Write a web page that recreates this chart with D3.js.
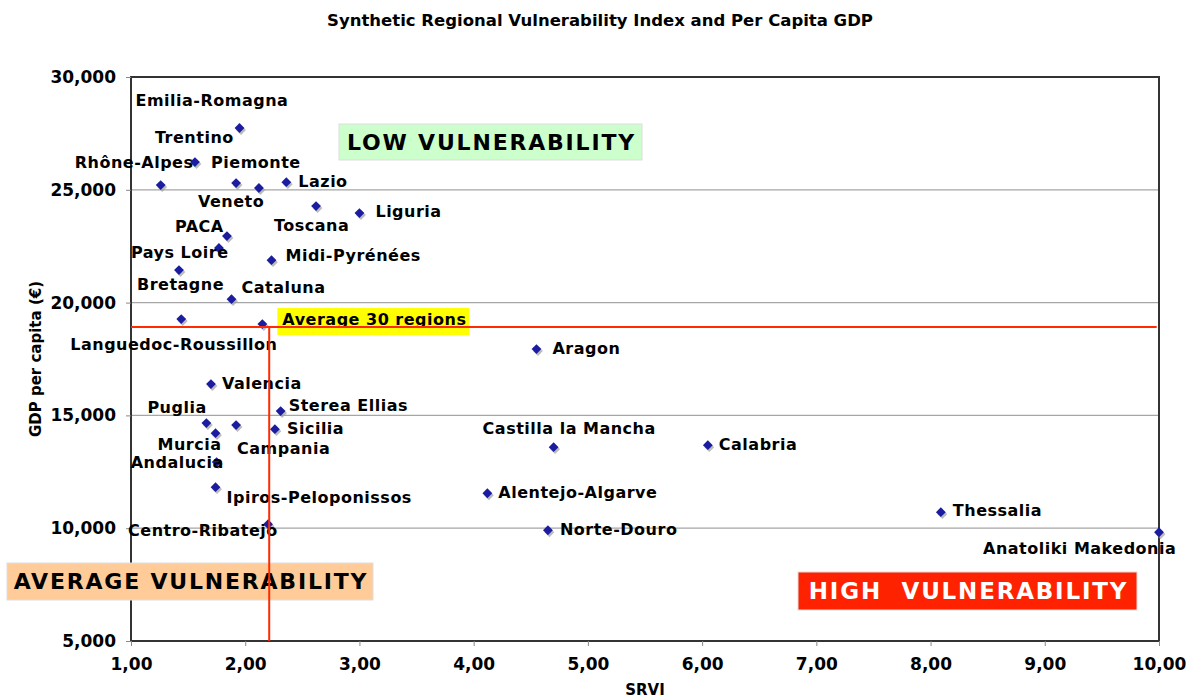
<!DOCTYPE html>
<html>
<head>
<meta charset="utf-8">
<script src="https://cdn.jsdelivr.net/npm/d3@7"></script>
<style>
  body { margin: 0; background: #fff; }
  text { font-family: "DejaVu Sans", Verdana, sans-serif; font-weight: bold; }
</style>
</head>
<body>
<div class="chart"></div>
<script>
// ______________________________ data ______________________________

const regions = ["Emilia-Romagna", "Trentino", "Rhône-Alpes", "Piemonte", "Veneto", "Lazio",
  "Toscana", "Liguria", "PACA", "Pays Loire", "Bretagne", "Midi-Pyrénées", "Cataluna",
  "Languedoc-Roussillon", "Average 30 regions", "Aragon", "Valencia", "Sterea Ellias",
  "Puglia", "Campania", "Murcia", "Sicilia", "Andalucia", "Ipiros-Peloponissos",
  "Centro-Ribatejo", "Castilla la Mancha", "Calabria", "Alentejo-Algarve", "Norte-Douro",
  "Thessalia", "Anatoliki Makedonia"];

const srvi = [1.95, 1.56, 1.26, 1.92, 2.12, 2.36, 2.62, 3.00, 1.84, 1.77, 1.42, 2.23, 1.88,
  1.44, 2.15, 4.55, 1.70, 2.31, 1.66, 1.92, 1.74, 2.26, 1.75, 1.74, 2.20, 4.70, 6.05,
  4.12, 4.65, 8.09, 10.00];

const gdp = [27740, 26230, 25210, 25300, 25080, 25340, 24280, 23970, 22950, 22420, 21440,
  21880, 20150, 19270, 19050, 17940, 16390, 15190, 14660, 14570, 14210, 14390, 12930,
  11820, 10180, 13590, 13680, 11550, 9910, 10710, 9820];

const avgSrvi = 2.21;
const avgGdp = 18920;

const xTicks = [1, 2, 3, 4, 5, 6, 7, 8, 9, 10];
const yTicks = [5000, 10000, 15000, 20000, 25000, 30000];

// label placement (pixel offsets from the marker)
const labelOffsets = {
  "Emilia-Romagna": [-104, -22], "Trentino": [-40, -19], "Rhône-Alpes": [-86, -17],
  "Piemonte": [-25, -15], "Veneto": [-61, 19], "Lazio": [12, 5], "Toscana": [-42, 25],
  "Liguria": [16, 4], "PACA": [-52, -4], "Pays Loire": [-88, 10], "Bretagne": [-42, 20],
  "Midi-Pyrénées": [14, 1], "Cataluna": [10, -6], "Languedoc-Roussillon": [-111, 31],
  "Average 30 regions": [20, 1], "Aragon": [16, 5], "Valencia": [11, 5],
  "Sterea Ellias": [8, 0], "Puglia": [-59, -10], "Campania": [1, 29], "Murcia": [-58, 17],
  "Sicilia": [12, 5], "Andalucia": [-86, 6], "Ipiros-Peloponissos": [11, 16],
  "Centro-Ribatejo": [-140, 12], "Castilla la Mancha": [-71, -13], "Calabria": [11, 5],
  "Alentejo-Algarve": [11, 5], "Norte-Douro": [12, 5], "Thessalia": [12, 4],
  "Anatoliki Makedonia": [-176, 22]
};

const data = regions.map((name, i) => ({name: name, srvi: srvi[i], gdp: gdp[i]}));

// ______________________________ chart ______________________________

const width = 1194;
const height = 700;
const margin = {top: 77, right: 35, bottom: 59, left: 131};

const svg = d3.select(".chart")
    .append("svg")
    .attr("width", width)
    .attr("height", height);

const xScale = d3.scaleLinear()
    .domain([1, 10])
    .range([margin.left, width - margin.right]);

const yScale = d3.scaleLinear()
    .domain([5000, 30000])
    .range([height - margin.bottom, margin.top]);

// title
svg.append("text")
    .attr("x", 600)
    .attr("y", 26)
    .attr("text-anchor", "middle")
    .attr("font-size", "16.5px")
    .text("Synthetic Regional Vulnerability Index and Per Capita GDP");

// gridlines
svg.append("g")
    .selectAll("line")
    .data(yTicks.filter(d => d > 5000 && d < 30000))
    .join("line")
        .attr("x1", xScale(1))
        .attr("x2", xScale(10))
        .attr("y1", d => yScale(d))
        .attr("y2", d => yScale(d))
        .attr("stroke", "#a6a6a6")
        .attr("stroke-width", 1.2);

// frame
svg.append("rect")
    .attr("x", xScale(1))
    .attr("y", yScale(30000))
    .attr("width", xScale(10) - xScale(1))
    .attr("height", yScale(5000) - yScale(30000))
    .attr("fill", "none")
    .attr("stroke", "#333")
    .attr("stroke-width", 2);

// axes
const xAxis = svg.append("g")
    .attr("transform", `translate(0,${yScale(5000)})`)
    .call(d3.axisBottom(xScale).tickValues(xTicks).tickSize(5).tickPadding(12)
        .tickFormat(d => d3.format(".2f")(d).replace(".", ",")));

const yAxis = svg.append("g")
    .attr("transform", `translate(${xScale(1)},0)`)
    .call(d3.axisLeft(yScale).tickValues(yTicks).tickSize(5).tickPadding(10)
        .tickFormat(d3.format(",")));

[xAxis, yAxis].forEach(g => {
    g.attr("font-size", null).attr("font-family", null);
    g.select(".domain").remove();
    g.selectAll(".tick line").attr("stroke", "#888");
    g.selectAll(".tick text")
        .style("font-size", "17px")
        .style("font-weight", "bold")
        .attr("fill", "#000");
});

svg.append("text")
    .attr("x", 645)
    .attr("y", 695)
    .attr("text-anchor", "middle")
    .attr("font-size", "15px")
    .text("SRVI");

svg.append("text")
    .attr("transform", `translate(41,${(yScale(5000) + yScale(30000)) / 2}) rotate(-90)`)
    .attr("text-anchor", "middle")
    .attr("font-size", "15px")
    .text("GDP per capita (€)");

// quadrant boxes
function box(x, y, w, h, fill, label, size, color) {
    svg.append("rect")
        .attr("x", x).attr("y", y).attr("width", w).attr("height", h)
        .attr("fill", fill)
        .attr("stroke", "#ddd");
    svg.append("text")
        .attr("x", x + w / 2 + 1)
        .attr("y", y + h / 2)
        .attr("dy", "0.36em")
        .attr("text-anchor", "middle")
        .attr("font-size", size)
        .attr("letter-spacing", "1.8px")
        .attr("fill", color)
        .attr("xml:space", "preserve")
        .text(label);
}

box(339, 124, 303, 36, "#ccffcc", "LOW VULNERABILITY", "22px", "#000");
box(7, 563, 366, 37, "#ffcc99", "AVERAGE VULNERABILITY", "22px", "#000");
box(798, 572, 339, 38, "#ff2200", "HIGH  VULNERABILITY", "23px", "#fff");

// yellow background for the average label
const avg = data.find(d => d.name === "Average 30 regions");
svg.append("rect")
    .attr("x", xScale(avg.srvi) + 15)
    .attr("y", yScale(avg.gdp) - 16)
    .attr("width", 192)
    .attr("height", 27)
    .attr("fill", "#ffff00");

// markers with shadow
const diamond = d3.symbol().type(d3.symbolSquare).size(48);

svg.append("g")
    .selectAll("path")
    .data(data)
    .join("path")
        .attr("d", diamond)
        .attr("transform", d => `translate(${xScale(d.srvi) + 1.5},${yScale(d.gdp) + 2}) rotate(45)`)
        .attr("fill", "#a0a0a0")
        .attr("opacity", 0.7);

svg.append("g")
    .selectAll("path")
    .data(data)
    .join("path")
        .attr("d", diamond)
        .attr("transform", d => `translate(${xScale(d.srvi)},${yScale(d.gdp)}) rotate(45)`)
        .attr("fill", "#1c1ca0");

// labels
svg.append("g")
    .selectAll("text")
    .data(data)
    .join("text")
        .attr("x", d => xScale(d.srvi) + labelOffsets[d.name][0])
        .attr("y", d => yScale(d.gdp) + labelOffsets[d.name][1])
        .attr("font-size", "16px")
        .attr("letter-spacing", "0.5px")
        .attr("fill", "#000")
        .text(d => d.name);

// average lines
svg.append("line")
    .attr("x1", xScale(1))
    .attr("x2", xScale(9.98))
    .attr("y1", yScale(avgGdp))
    .attr("y2", yScale(avgGdp))
    .attr("stroke", "#ff2a00")
    .attr("stroke-width", 2);

svg.append("line")
    .attr("x1", xScale(avgSrvi))
    .attr("x2", xScale(avgSrvi))
    .attr("y1", yScale(avgGdp))
    .attr("y2", yScale(5000))
    .attr("stroke", "#ff2a00")
    .attr("stroke-width", 2);
</script>
</body>
</html>
